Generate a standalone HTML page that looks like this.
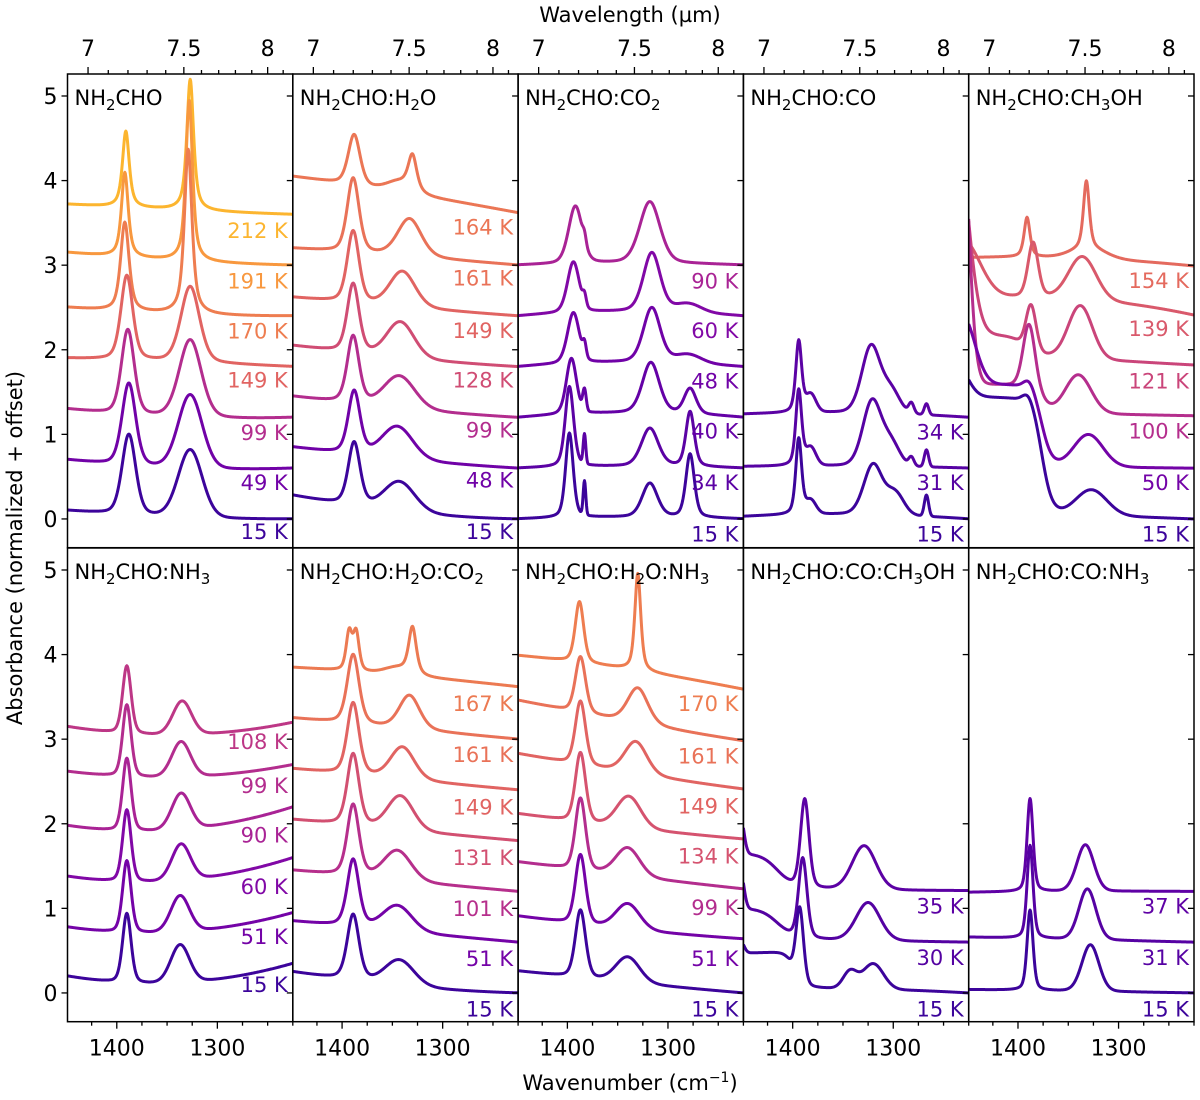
<!DOCTYPE html>
<html><head><meta charset="utf-8">
<style>
html,body{margin:0;padding:0;background:#fff;}
svg{display:block;font-family:"DejaVu Sans","Liberation Sans",sans-serif;}
</style></head>
<body>
<svg id="fig" width="1200" height="1100" viewBox="0 0 1200 1100" xmlns="http://www.w3.org/2000/svg">
<rect width="1200" height="1100" fill="#fff"/>
<text x="630" y="22" font-size="21" text-anchor="middle">Wavelength (µm)</text>
<text x="630" y="1090" font-size="21" text-anchor="middle">Wavenumber (cm<tspan font-size="14" dy="-8">−1</tspan><tspan dy="8">)</tspan></text>
<text transform="translate(22,548) rotate(-90)" font-size="21" text-anchor="middle">Absorbance (normalized + offset)</text>
<g id="panels"></g>
</svg>
<script>
// ---- data ----
const panelTitles = [
 [["NH",""],["2","s"],["CHO",""]],
 [["NH",""],["2","s"],["CHO:H",""],["2","s"],["O",""]],
 [["NH",""],["2","s"],["CHO:CO",""],["2","s"]],
 [["NH",""],["2","s"],["CHO:CO",""]],
 [["NH",""],["2","s"],["CHO:CH",""],["3","s"],["OH",""]],
 [["NH",""],["2","s"],["CHO:NH",""],["3","s"]],
 [["NH",""],["2","s"],["CHO:H",""],["2","s"],["O:CO",""],["2","s"]],
 [["NH",""],["2","s"],["CHO:H",""],["2","s"],["O:NH",""],["3","s"]],
 [["NH",""],["2","s"],["CHO:CO:CH",""],["3","s"],["OH",""]],
 [["NH",""],["2","s"],["CHO:CO:NH",""],["3","s"]]
];
const temps = [
 [15,49,99,149,170,191,212],
 [15,48,99,128,149,161,164],
 [15,34,40,48,60,90],
 [15,31,34],
 [15,50,100,121,139,154],
 [15,51,60,90,99,108],
 [15,51,101,131,149,161,167],
 [15,51,99,134,149,161,170],
 [15,30,35],
 [15,31,37]
];
const labelVals = [
 [-0.15,0.43,1.02,1.64,2.22,2.81,3.41],
 [-0.15,0.46,1.05,1.64,2.23,2.85,3.45],
 [-0.18,0.43,1.04,1.63,2.23,2.81],
 [-0.18,0.43,1.03],
 [-0.18,0.43,1.04,1.63,2.25,2.82],
 [0.10,0.67,1.26,1.87,2.45,2.97],
 [-0.19,0.41,1.0,1.6,2.2,2.82,3.42],
 [-0.19,0.41,1.01,1.62,2.21,2.80,3.42],
 [-0.19,0.42,1.03],
 [-0.19,0.42,1.03]
];
// baselines: value at 1449, 1337, 1225 cm-1
const baselines = [
 [[0.1,0.02,0],[0.7,0.6,0.6],[1.3,1.2,1.2],[1.9,1.85,1.8],[2.5,2.42,2.4],[3.15,3.05,3.0],[3.72,3.65,3.6]],
 [[0.28,0.08,0],[0.85,0.7,0.6],[1.45,1.3,1.2],[2.05,1.9,1.8],[2.62,2.5,2.4],[3.2,3.1,3.0],[4.05,3.85,3.62]],
 [[0,0.02,0],[0.6,0.62,0.6],[1.2,1.25,1.2],[1.8,1.85,1.8],[2.4,2.45,2.4],[3.0,3.02,3.0]],
 [[0.03,0.05,0],[0.62,0.62,0.6],[1.24,1.25,1.2]],
 [[0.1,0.05,0],[0.65,0.62,0.6],[1.3,1.25,1.22],[2.0,1.9,1.82],[2.6,2.6,2.41],[3.09,3.08,2.99]],
 [[0.2,0.12,0.35],[0.78,0.72,0.95],[1.38,1.33,1.6],[1.98,1.93,2.2],[2.62,2.55,2.7],[3.15,3.05,3.2]],
 [[0.25,0.08,0],[0.85,0.72,0.6],[1.45,1.32,1.2],[2.05,1.92,1.8],[2.65,2.52,2.4],[3.25,3.12,3.0],[3.85,3.75,3.62]],
 [[0.26,0.12,0],[0.91,0.75,0.64],[1.55,1.38,1.23],[2.12,1.95,1.82],[2.83,2.6,2.41],[3.46,3.2,2.98],[3.99,3.82,3.59]],
 [[0.05,0.05,0],[0.65,0.62,0.6],[1.25,1.22,1.21]],
 [[0.04,0.02,0],[0.66,0.63,0.6],[1.19,1.2,1.2]]
];
// peaks: [center cm-1, amplitude, HWHM, lorentz fraction (-1 = step edge)]
const peaks = [
 [
  [[1388,0.95,8,0.3],[1327,0.8,14,0.1]],
  [[1388,0.97,8,0.3],[1327,0.87,14,0.1]],
  [[1389,1.0,7.5,0.3],[1327,0.92,13,0.2]],
  [[1390,1.0,7,0.4],[1327,0.9,11,0.3]],
  [[1392,1.05,5,0.6],[1329,1.95,4.5,0.7]],
  [[1392,1.0,4,0.7],[1328,1.9,4,0.7]],
  [[1391,0.9,4,0.7],[1327,1.55,4,0.7]]
 ],
 [
  [[1388,0.75,7,0.4],[1343,0.35,18,0.1]],
  [[1388,0.75,7,0.4],[1345,0.38,18,0.1]],
  [[1389,0.8,7,0.4],[1343,0.38,18,0.1]],
  [[1389,0.82,7,0.4],[1342,0.42,16,0.1]],
  [[1389,0.85,7,0.4],[1340,0.42,15,0.2]],
  [[1389,0.88,7,0.4],[1333,0.45,14,0.3]],
  [[1388,0.6,7,0.4],[1330,0.4,5,0.6],[1342,0.12,15,0]]
 ],
 [
  [[1398,1.0,4.5,0.4],[1383,0.4,1.5,0],[1318,0.4,9,0.3],[1278,0.75,5,0.4]],
  [[1398,0.95,5,0.4],[1383,0.35,1.5,0],[1318,0.45,10,0.3],[1278,0.65,5,0.4]],
  [[1396,0.66,6,0.3],[1383,0.25,2,0],[1317,0.6,10,0.3],[1278,0.3,7,0.3]],
  [[1394,0.6,7,0.3],[1383,0.15,2,0],[1316,0.65,10,0.3],[1280,0.1,15,0]],
  [[1394,0.6,7,0.3],[1383,0.12,2,0],[1316,0.7,10,0.3],[1280,0.1,15,0]],
  [[1392,0.68,8,0.3],[1383,0.1,2,0],[1318,0.73,12,0.3]]
 ],
 [
  [[1394,0.9,3.5,0.5],[1382,0.15,6,0],[1320,0.6,11,0.2],[1298,0.25,10,0],[1267,0.25,2.5,0]],
  [[1394,0.9,3.5,0.5],[1382,0.2,6,0],[1321,0.78,11,0.2],[1302,0.25,10,0],[1282,0.1,3,0],[1267,0.2,2.5,0]],
  [[1394,0.85,3.5,0.5],[1382,0.2,6,0],[1322,0.8,11,0.2],[1302,0.25,10,0],[1282,0.12,3,0],[1267,0.13,2.5,0]]
 ],
 [
  [[1376,1.35,5,-1],[1460,0.35,12,0],[1390,0.1,6,0],[1327,0.3,18,0]],
  [[1376,0.95,5,-1],[1455,0.8,14,0],[1389,0.1,6,0],[1330,0.38,17,0]],
  [[1376,0.3,5,-1],[1389,0.75,7,0.2],[1340,0.45,15,0],[1460,4.5,10,0]],
  [[1395,0.2,6,-1],[1387,0.55,6,0.2],[1338,0.62,14,0],[1462,2.4,14,0]],
  [[1385,0.65,6,0.3],[1336,0.5,16,0],[1455,0.7,20,0]],
  [[1391,0.47,3.5,0.6],[1332,0.8,3.5,0.6],[1330,0.12,20,0]]
 ],
 [
  [[1390,0.82,5,0.3],[1337,0.45,11,0.1]],
  [[1390,0.85,5,0.3],[1337,0.43,11,0.1]],
  [[1390,0.85,5,0.3],[1336,0.43,11,0.1]],
  [[1390,0.86,5,0.3],[1336,0.43,11,0.1]],
  [[1390,0.85,5,0.3],[1336,0.42,11,0.1]],
  [[1390,0.8,5,0.3],[1335,0.4,11,0.1]]
 ],
 [
  [[1389,0.78,7,0.4],[1343,0.3,17,0.1]],
  [[1389,0.8,7,0.4],[1345,0.3,17,0.1]],
  [[1389,0.85,7,0.4],[1345,0.35,16,0.1]],
  [[1389,0.85,7,0.4],[1342,0.4,15,0.1]],
  [[1389,0.85,7,0.4],[1340,0.38,14,0.2]],
  [[1389,0.82,7,0.4],[1333,0.4,12,0.3]],
  [[1393,0.45,3.5,0.5],[1386,0.45,3.5,0.5],[1330,0.55,4.5,0.6],[1345,0.08,15,0]]
 ],
 [
  [[1387,0.8,6,0.3],[1340,0.3,14,0.1]],
  [[1387,0.82,6,0.3],[1340,0.3,14,0.1]],
  [[1387,0.85,6,0.3],[1340,0.33,14,0.1]],
  [[1387,0.82,6,0.3],[1339,0.37,14,0.1]],
  [[1387,0.75,6,0.3],[1332,0.38,13,0.2]],
  [[1387,0.66,6,0.3],[1330,0.42,12,0.3]],
  [[1388,0.72,5,0.4],[1330,1.15,3.5,0.6]]
 ],
 [
  [[1400,0.42,4,-1],[1452,0.15,4,0],[1393,0.9,4.5,0.3],[1343,0.2,8,0],[1320,0.3,12,0]],
  [[1452,0.45,4,0],[1415,0.35,8,-1],[1390,0.95,5,0.3],[1325,0.45,14,0.1]],
  [[1452,0.45,4,0],[1415,0.4,8,-1],[1388,1.05,5,0.3],[1329,0.52,14,0.1]]
 ],
 [
  [[1388,0.95,3.5,0.4],[1328,0.55,10,0.1]],
  [[1388,1.1,3.5,0.4],[1331,0.6,10,0.1]],
  [[1388,1.1,3.5,0.4],[1333,0.55,10,0.1]]
 ]
];
const yTicks = [0,1,2,3,4,5];
const xTickLabels = [1400,1300];
const wlTickLabels = [7,7.5,8];

// ---- layout ----
const NS="http://www.w3.org/2000/svg";
const COL0=67.5, COLW=225.3, ROWT=[74,548], ROWH=473.7;
const XMAX=1449, XMIN=1225, YMIN=-0.34, YMAX=5.26;
function xOf(c,nu){return COL0+COLW*c+(XMAX-nu)/(XMAX-XMIN)*COLW;}
function yOf(r,v){return ROWT[r]+(YMAX-v)/(YMAX-YMIN)*ROWH;}
const stops=["#0d0887","#41049d","#6a00a8","#8f0da4","#b12a90","#cc4778","#e16462","#f2844b","#fca636","#fcce25","#f0f921"];
function hex(h){return [parseInt(h.substr(1,2),16),parseInt(h.substr(3,2),16),parseInt(h.substr(5,2),16)];}
function plasma(t){t=Math.max(0,Math.min(1,t));const s=t*10,i=Math.min(9,Math.floor(s)),f=s-i;const a=hex(stops[i]),b=hex(stops[i+1]);
 return "rgb("+a.map((v,k)=>Math.round(v+(b[k]-v)*f)).join(",")+")";}
function tempColor(T){return plasma(0.033+0.0038*T);}
function baseAt(b,nu){const x0=1449,x1=1337,x2=1225;
 const l0=(nu-x1)*(nu-x2)/((x0-x1)*(x0-x2)),l1=(nu-x0)*(nu-x2)/((x1-x0)*(x1-x2)),l2=(nu-x0)*(nu-x1)/((x2-x0)*(x2-x1));
 return b[0]*l0+b[1]*l1+b[2]*l2;}
function peakAt(p,nu){const [c,a,w,eta]=p;
 if(eta<0) return a/(1+Math.exp((c-nu)/w));
 const u=(nu-c)/w;return a*(eta/(1+u*u)+(1-eta)*Math.exp(-Math.LN2*u*u));}
function mk(tag,attrs,parent){const e=document.createElementNS(NS,tag);for(const k in attrs)e.setAttribute(k,attrs[k]);parent.appendChild(e);return e;}

const root=document.getElementById("panels");
const defs=mk("defs",{},root);
for(let p=0;p<10;p++){
 const c=p%5,r=Math.floor(p/5);
 const L=COL0+COLW*c,T=ROWT[r];
 const cp=mk("clipPath",{id:"clip"+p},defs);
 mk("rect",{x:L,y:T,width:COLW,height:ROWH},cp);
 const g=mk("g",{},root);
 
 
 const cg=mk("g",{"clip-path":"url(#clip"+p+")"},g);
 for(let k=temps[p].length-1;k>=0;k--){
  let d="";
  for(let nu=XMAX;nu>=XMIN;nu-=0.5){
   let v=baseAt(baselines[p][k],nu);
   for(const pk of peaks[p][k]) v+=peakAt(pk,nu);
   d+=(d?"L":"M")+xOf(c,nu).toFixed(2)+" "+yOf(r,v).toFixed(2);
  }
  const path=mk("path",{d:d,fill:"none",stroke:tempColor(temps[p][k]),"stroke-width":3,"stroke-linejoin":"round"},cg);
  
  
  const lab=mk("text",{x:L+COLW-5,y:yOf(r,labelVals[p][k])+7.5,"font-size":21,"text-anchor":"end",fill:tempColor(temps[p][k])},g);
  lab.textContent=temps[p][k]+" K";
  
  
 }
 const fr=mk("rect",{x:L,y:T,width:COLW,height:ROWH,fill:"none",stroke:"#000","stroke-width":1.5},g);
 
 
 const tt=mk("text",{x:L+7,y:T+31,"font-size":21},g);
 
 
 let sub=false;
 for(const [s,kind] of panelTitles[p]){
  const ts=mk("tspan",{},tt);
  if(kind==="s"&&!sub){ts.setAttribute("font-size","15");ts.setAttribute("dy","5");sub=true;}
  else if(kind!=="s"&&sub){ts.setAttribute("dy","-5");sub=false;}
  ts.textContent=s;
 }
 for(const v of yTicks){
  const y=yOf(r,v);
  mk("line",{x1:L+COLW-6,x2:L+COLW,y1:y,y2:y,stroke:"#000","stroke-width":1.3},g);
  if(c===0){
   mk("line",{x1:L-6,x2:L,y1:y,y2:y,stroke:"#000","stroke-width":1.3},g);
   const tl=mk("text",{x:L-10,y:y+8,"font-size":22,"text-anchor":"end"},g);
   tl.textContent=v;
   
   
  }
 }
 if(r===1){
  for(let nu=1425;nu>=XMIN;nu-=25){
   const x=xOf(c,nu),maj=(nu%100===0);
   mk("line",{x1:x,x2:x,y1:T+ROWH,y2:T+ROWH+(maj?7:4),stroke:"#000","stroke-width":1.3},g);
  }
  for(const nu of xTickLabels){
   const tl=mk("text",{x:xOf(c,nu),y:T+ROWH+34,"font-size":22,"text-anchor":"middle"},g);
   tl.textContent=nu;
   
   
  }
 } else {
  for(let i=69;i<=81;i++){
   const lam=i/10,nu=1e4/lam;
   if(nu>XMAX||nu<XMIN) continue;
   const x=xOf(c,nu),maj=(i%5===0);
   mk("line",{x1:x,x2:x,y1:T,y2:T-(maj?7:4),stroke:"#000","stroke-width":1.3},g);
  }
  for(const lam of wlTickLabels){
   const tl=mk("text",{x:xOf(c,1e4/lam),y:T-18,"font-size":22,"text-anchor":"middle"},g);
   tl.textContent=lam;
   
   
  }
 }
}
</script>
</body></html>
